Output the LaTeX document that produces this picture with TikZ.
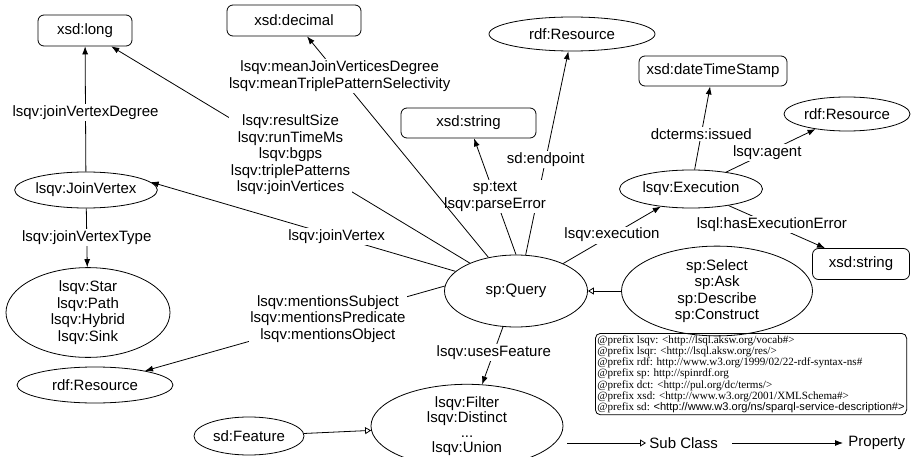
\documentclass[tikz,border=0pt]{standalone}
\usepackage{fontspec}
\setmainfont{Liberation Sans}
\newfontfamily\prefixfont{Liberation Serif}
\newfontfamily\urlsans{Liberation Sans}
\usetikzlibrary{shapes.geometric, arrows.meta, positioning}

\begin{document}
\begin{tikzpicture}[x=1pt, y=-1pt, line width=0.8pt]
  \tikzset{
    cls/.style={
      draw,
      ellipse,
      inner sep=0pt,
      align=center,
      font=\fontsize{15}{16.5}\selectfont
    },
    dtype/.style={
      draw,
      rectangle,
      rounded corners=6pt,
      inner sep=0pt,
      font=\fontsize{15}{16.5}\selectfont
    },
    prop/.style={
      fill=white,
      inner sep=1.5pt,
      align=center,
      font=\fontsize{15}{16.5}\selectfont
    },
    rel/.style={-{Latex[length=8pt,width=6pt]}},
    subcls/.style={-{Triangle[open,length=6pt,width=7pt]}}
  }
  \useasboundingbox (0,0) rectangle (912,457);
  \clip (0,0) rectangle (912,457);

  % Classes and datatypes
  \node[cls, minimum width=143pt, minimum height=72pt] at (516,291) (query) {sp:Query};
  \node[dtype, minimum width=94pt, minimum height=31pt] at (85,30.5) (xsdlong) {xsd:long};
  \node[dtype, minimum width=134pt, minimum height=31pt] at (294,20.5) (xsddec) {xsd:decimal};
  \node[cls, minimum width=166pt, minimum height=34pt] at (572,34) (rdfres1) {rdf:Resource};
  \node[dtype, minimum width=135pt, minimum height=30pt] at (468.5,123) (xsdstr1) {xsd:string};
  \node[dtype, minimum width=148pt, minimum height=30pt] at (713,71) (xsddts) {xsd:dateTimeStamp};
  \node[cls, minimum width=126pt, minimum height=34pt] at (847,114) (rdfres2) {rdf:Resource};
  \node[cls, minimum width=143pt, minimum height=38pt] at (691,189) (exec) {lsqv:Execution};
  \node[dtype, minimum width=97pt, minimum height=31pt] at (861,264) (xsdstr2) {xsd:string};
  \node[cls, minimum width=142pt, minimum height=36pt] at (86,190) (joinv) {lsqv:JoinVertex};
  \node[cls, minimum width=164pt, minimum height=71pt] at (88,312.5) (jvtypes)
    {lsqv:Star\\lsqv:Path\\lsqv:Hybrid\\lsqv:Sink};
  \node[cls, minimum width=191pt, minimum height=70pt] at (717,291) (qtypes)
    {sp:Select\\sp:Ask\\sp:Describe\\sp:Construct};
  \node[cls, minimum width=156pt, minimum height=36pt] at (95,385) (rdfres3) {rdf:Resource};
  \node[cls, minimum width=110pt, minimum height=38pt] at (249,436) (sdfeat) {sd:Feature};
  \node[cls, minimum width=192pt, minimum height=74pt, font=\fontsize{15}{15}\selectfont] at (467,426) (feat)
    {lsqv:Filter\\lsqv:Distinct\\...\\lsqv:Union};

  % Properties
  \draw[rel] (joinv) -- node[prop, pos=0.47] (pJvDeg) {lsqv:joinVertexDegree} (xsdlong);
  \draw[rel] (joinv) -- node[prop] (pJvType) {lsqv:joinVertexType} (jvtypes);
  \draw[rel] (query) -- node[prop] (pCounts)
    {lsqv:resultSize\\lsqv:runTimeMs\\lsqv:bgps\\lsqv:triplePatterns\\lsqv:joinVertices} (xsdlong);
  \draw[rel] (query.75) -- node[prop, pos=0.47] (pEndpoint) {sd:endpoint} (rdfres1);
  \draw[rel] (query.north) -- node[prop] (pText) {sp:text\\lsqv:parseError} (xsdstr1);
  \draw[rel] (query) -- node[prop, pos=0.82] (pMeans)
    {lsqv:meanJoinVerticesDegree\\lsqv:meanTriplePatternSelectivity} (xsddec);
  \draw[rel] (query.162) -- node[prop, pos=0.39] (pJoinV) {lsqv:joinVertex} (joinv.7);
  \draw[rel] (query.176) -- node[prop, pos=0.39] (pMentions)
    {lsqv:mentionsSubject\\lsqv:mentionsPredicate\\lsqv:mentionsObject} (rdfres3);
  \draw[rel] (query) -- node[prop] (pExec) {lsqv:execution} (exec);
  \draw[rel] (query) -- node[prop, pos=0.44] (pFeature) {lsqv:usesFeature} (feat);
  \draw[rel] (exec) -- node[prop, pos=0.43] (pIssued) {dcterms:issued} (xsddts);
  \draw[rel] (exec) -- node[prop, pos=0.46] (pAgent) {lsqv:agent} (rdfres2);
  \draw[rel] (exec) -- node[prop, pos=0.45] (pError) {lsql:hasExecutionError} (xsdstr2);

  % Sub classes
  \draw[subcls] (qtypes) -- (query);
  \draw[subcls] (sdfeat) -- (feat);

  % Prefixes
  \node[draw, rounded corners=5pt, anchor=north west, align=left, inner sep=2pt,
        font=\prefixfont\fontsize{11.1}{11.2}\selectfont] at (595,333) (prefixes)
    {@prefix lsqv: <http://lsql.aksw.org/vocab\#>\\
     @prefix lsqr: <http://lsql.aksw.org/res/>\\
     @prefix rdf: http://www.w3.org/1999/02/22-rdf-syntax-ns\#\\
     @prefix sp: http://spinrdf.org\\
     @prefix dct: <http://pul.org/dc/terms/>\\
     @prefix xsd: <http://www.w3.org/2001/XMLSchema\#>\\
     @prefix sd: {\urlsans <http://www.w3.org/ns/sparql-service-description\#>}};

  % Legend
  \coordinate (subA) at (567,443);
  \coordinate (subB) at (646,443);
  \draw[subcls] (subA) -- (subB);
  \node[right=2pt of subB, inner sep=1pt, font=\fontsize{15}{16.5}\selectfont] (subTxt) {Sub Class};
  \coordinate (propA) at (732,443);
  \coordinate (propB) at (843,443);
  \draw[rel] (propA) -- (propB);
  \node[right=4pt of propB, inner sep=1pt, font=\fontsize{15}{16.5}\selectfont] (propTxt) {Property};
\end{tikzpicture}
\end{document}
